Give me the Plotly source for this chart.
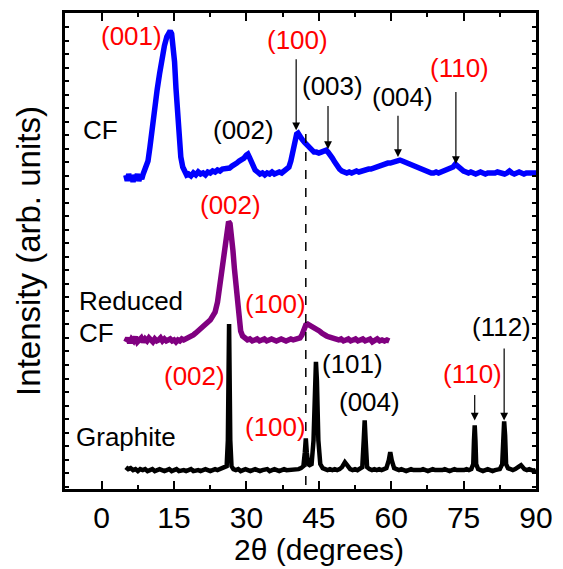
import plotly.graph_objects as go

# ---- XRD patterns (2-theta in degrees, intensity in arbitrary units above each baseline) ----
cf_2theta = [5.0, 5.3, 5.6, 5.9, 6.2, 6.5, 6.8, 7.1, 7.4, 7.7, 8.0, 8.3, 8.6, 8.9, 9.2, 9.6, 10.0, 10.5, 11.0, 11.5,
             12.0, 12.5, 13.0, 13.5, 13.9, 14.2, 14.5, 14.8, 15.1, 15.4, 15.7, 16.0, 16.4, 16.8, 17.2, 17.6, 18.0, 18.5,
             19.0, 19.5, 20.0, 20.5, 21.0, 21.5, 22.0, 22.5, 23.0, 23.5, 24.0, 24.5, 25.0, 25.5, 26.0, 26.5, 27.0, 27.5,
             28.0, 28.5, 29.0, 29.5, 30.0, 30.3, 30.6, 31.0, 31.4, 31.8, 32.3, 32.8, 33.3, 33.8, 34.3, 34.8, 35.3, 35.8,
             36.3, 36.8, 37.3, 37.8, 38.3, 38.8, 39.2, 39.6, 40.0, 40.4, 40.7, 41.0, 41.5, 42.0, 42.5, 43.0, 43.5, 44.0,
             44.5, 45.0, 45.5, 46.0, 46.5, 46.9, 47.3, 47.8, 48.3, 48.8, 49.3, 49.8, 50.3, 50.8, 51.3, 51.8, 52.3, 52.8,
             53.3, 53.8, 54.3, 54.8, 55.3, 55.8, 56.3, 56.8, 57.3, 57.8, 58.3, 58.8, 59.3, 59.8, 60.3, 60.8, 61.3, 61.8,
             62.3, 62.8, 63.3, 63.8, 64.3, 64.8, 65.3, 65.8, 66.3, 66.8, 67.3, 67.8, 68.3, 68.8, 69.3, 69.8, 70.3, 70.8,
             71.3, 71.8, 72.3, 72.8, 73.3, 73.7, 74.1, 74.5, 75.0, 75.5, 76.0, 76.5, 77.0, 77.5, 78.0, 78.5, 79.0, 79.5,
             80.0, 80.5, 81.0, 81.5, 82.0, 82.5, 83.0, 83.5, 84.0, 84.5, 85.0, 85.5, 86.0, 86.5, 87.0, 87.5, 88.0, 88.5,
             89.0, 89.5, 90.0]
cf_intensity = [-2, -8, -1, -7, -3, -9, -2, -6, -1, -8, -3, -6, -1, 2, 5, 12, 26, 48, 66, 84,
                100, 116, 128, 137, 142, 143, 140, 128, 112, 85, 60, 38, 16, 6, 1, -2, -1, -3,
                0, -2, 1, -1, 0, -2, 1, 0, 2, 1, 3, 2, 4, 4, 5, 5, 7, 8,
                10, 12, 13, 15, 18, 19, 16, 11, 7, 3, 1, -1, 0, -2, 0, -1, 1, -1,
                0, 1, 0, 2, 3, 6, 12, 22, 32, 39, 40, 37, 34, 31, 28, 25, 22, 21,
                21, 20, 21, 22, 23, 21, 19, 15, 11, 7, 4, 2, 1, 0, 1, 0, 1, 2,
                1, 2, 3, 3, 4, 4, 5, 6, 6, 7, 8, 9, 10, 10, 11, 12, 12, 13,
                12, 11, 10, 9, 8, 7, 5, 4, 3, 2, 1, 1, 0, 0, 1, 0, 1, 1,
                2, 3, 4, 6, 9, 7, 5, 3, 2, 1, 0, 1, 0, -1, 0, 1, 0, -1,
                0, 0, -1, 0, 1, 0, 0, -1, 0, 2, 0, -1, 0, 1, 0, -1, 0, 0,
                1, 0, 0]

rcf_2theta = [5.0, 5.4, 5.8, 6.2, 6.6, 7.0, 7.4, 7.8, 8.2, 8.6, 9.0, 9.4, 9.8, 10.2, 10.6, 11.0, 11.4, 11.8, 12.2,
              12.6, 13.0, 13.4, 13.8, 14.2, 14.6, 15.0, 15.4, 15.8, 16.2, 16.6, 17.0, 17.5, 18.0, 18.5, 19.0, 19.5,
              20.0, 20.5, 21.0, 21.5, 22.0, 22.5, 23.0, 23.5, 24.0, 24.5, 25.0, 25.5, 25.9, 26.3, 26.6, 26.9, 27.2,
              27.5, 27.8, 28.1, 28.4, 28.8, 29.2, 29.7, 30.2, 30.7, 31.2, 31.7, 32.2, 32.7, 33.2, 33.7, 34.2, 34.7,
              35.2, 35.7, 36.2, 36.7, 37.2, 37.7, 38.2, 38.7, 39.2, 39.7, 40.2, 40.7, 41.1, 41.5, 41.9, 42.3, 42.7,
              43.1, 43.6, 44.1, 44.6, 45.1, 45.6, 46.1, 46.6, 47.1, 47.6, 48.1, 48.6, 49.1, 49.6, 50.1, 50.6, 51.1,
              51.6, 52.1, 52.6, 53.1, 53.6, 54.1, 54.6, 55.1, 55.6, 56.1, 56.6, 57.1, 57.6, 58.1, 58.6, 59.1, 59.6]
rcf_intensity = [-2, 2, -3, 1, -1, 3, -2, 0, 2, -2, 1, -1, 2, 0, -2, 1, -1, 0, 2,
                 -1, 1, -1, 0, 1, -1, 0, -2, 0, -1, 1, 0, 1, 2, 4, 5, 7,
                 9, 11, 13, 15, 17, 20, 24, 28, 38, 56, 78, 100, 113, 119, 117, 106, 90,
                 72, 54, 36, 20, 9, 4, 2, 0, 1, -1, 0, 1, -1, 0, 1, -1, 0,
                 1, 0, -1, 0, 1, 0, -1, 0, 1, 0, 1, 1, 2, 5, 11, 15, 16,
                 15, 13, 12, 11, 9, 7, 5, 4, 3, 2, 1, 1, 0, 1, -1, 0, 1,
                 -1, 0, 1, -1, 0, 1, -1, 0, 1, -2, 0, 1, -1, 0, -1, 0, -1]

gr_2theta = [5.0, 5.5, 6.0, 6.5, 7.0, 7.5, 8.0, 8.5, 9.0, 9.5, 10.0, 10.5, 11.0, 11.5, 12.0, 12.5, 13.0, 13.5, 14.0,
             14.5, 15.0, 15.5, 16.0, 16.5, 17.0, 17.5, 18.0, 18.5, 19.0, 19.5, 20.0, 20.5, 21.0, 21.5, 22.0, 22.5,
             23.0, 23.5, 24.0, 24.5, 25.0, 25.5, 25.9, 26.15, 26.4, 26.65, 26.9, 27.3, 27.8, 28.3, 28.8, 29.3, 29.8,
             30.3, 30.8, 31.3, 31.8, 32.3, 32.8, 33.3, 33.8, 34.3, 34.8, 35.3, 35.8, 36.3, 36.8, 37.3, 37.8, 38.3,
             38.8, 39.3, 39.8, 40.3, 40.8, 41.3, 41.8, 42.1, 42.3, 42.5, 42.8, 43.1, 43.5, 43.9, 44.2, 44.4, 44.6,
             44.9, 45.3, 45.8, 46.3, 46.8, 47.3, 47.8, 48.3, 48.8, 49.3, 49.8, 50.4, 51.0, 51.5, 52.0, 52.5, 53.0,
             53.5, 54.0, 54.3, 54.5, 54.7, 55.0, 55.5, 56.0, 56.5, 57.0, 57.5, 58.0, 58.5, 59.0, 59.5, 59.8, 60.1,
             60.6, 61.1, 61.6, 62.1, 62.6, 63.1, 63.6, 64.1, 64.6, 65.1, 65.6, 66.1, 66.6, 67.1, 67.6, 68.1, 68.6,
             69.1, 69.6, 70.1, 70.6, 71.1, 71.6, 72.1, 72.6, 73.1, 73.6, 74.1, 74.6, 75.1, 75.6, 76.1, 76.6, 77.0,
             77.15, 77.3, 77.45, 77.6, 78.0, 78.5, 79.0, 79.5, 80.0, 80.5, 81.0, 81.5, 82.0, 82.5, 83.0, 83.2, 83.4,
             83.6, 83.8, 84.2, 84.7, 85.2, 85.7, 86.2, 86.6, 86.9, 87.2, 87.6, 88.1, 88.6, 89.1, 89.6, 90.0]
gr_intensity = [3, 1, 2, 0, 1, -1, 1, 0, 1, -1, 0, 1, -1, 0, 1, 0, -1, 0, 1,
                -1, 0, 1, -1, 0, 0, -1, 0, 1, -1, 0, 0, -1, 0, 1, 0, -1,
                0, 1, 0, 1, 1, 2, 4, 30, 147, 30, 4, 1, 0, 1, -1, 0, 1,
                0, -1, 0, 1, 0, -1, 0, 0, 1, -1, 0, 1, 0, -1, 0, 1, 0,
                0, 1, 0, 1, 1, 2, 4, 18, 32, 18, 6, 5, 6, 30, 90, 109, 90,
                30, 6, 2, 1, 0, 1, 0, 1, 0, 1, 3, 8, 3, 1, 0, 1, 0,
                1, 3, 30, 50, 30, 3, 1, 0, 1, 0, 1, 0, 1, 2, 10, 18, 10,
                2, 1, 0, 1, 0, -1, 0, 1, 0, 0, -1, 0, 1, 0, -1, 0, 1,
                0, 0, -1, 0, 1, 0, -1, 0, 1, 0, 0, -1, 0, 1, 0, 1, 6,
                30, 45, 30, 6, 1, 0, -1, 0, 1, 0, -1, 0, 1, 1, 6, 35, 49,
                35, 6, 2, 1, 0, 1, 2, 4, 5, 3, 1, 0, 1, 0, -1, 0]

# vertical offsets that stack the three patterns
CF_OFFSET = 318
RCF_OFFSET = 150
GR_OFFSET = 19

x_ticks = [0, 15, 30, 45, 60, 75, 90]
x_tick_labels = ["0", "15", "30", "45", "60", "75", "90"]

FONT = "Liberation Sans, Arial, sans-serif"
RED = "#FF0000"
BLACK = "#000000"

fig = go.Figure()

fig.add_trace(go.Scatter(x=gr_2theta, y=[GR_OFFSET + v for v in gr_intensity], mode="lines",
                         line=dict(color="#000000", width=4.5), name="Graphite", showlegend=False))
fig.add_trace(go.Scatter(x=rcf_2theta, y=[RCF_OFFSET + v for v in rcf_intensity], mode="lines",
                         line=dict(color="#800080", width=5.5), name="Reduced CF", showlegend=False))
fig.add_trace(go.Scatter(x=cf_2theta, y=[CF_OFFSET + v for v in cf_intensity], mode="lines",
                         line=dict(color="#0000FF", width=5.5), name="CF", showlegend=False))

# dashed guide through the (100) reflections
fig.add_shape(type="line", xref="x", yref="y", x0=42.3, x1=42.3, y0=4, y1=364,
              line=dict(color="black", width=1.5, dash="dash"))

annotations = []


def label(x, y, text, color, anchor="center", size=26):
    annotations.append(dict(x=x, y=y, xref="x", yref="y", text=text, showarrow=False,
                            xanchor=anchor, yanchor="middle",
                            font=dict(family=FONT, size=size, color=color)))


def arrow(x, y_tail, y_head):
    annotations.append(dict(x=x, y=y_head, ax=x, ay=y_tail, xref="x", yref="y", axref="x", ayref="y",
                            text="", showarrow=True, arrowhead=2, arrowsize=1.3, arrowwidth=1.2,
                            arrowcolor="black", standoff=0))


# CF
label(6.2, 456, "(001)", RED)
label(40.5, 452, "(100)", RED)
label(47.9, 406, "(003)", BLACK)
label(62.3, 394, "(004)", BLACK)
label(74.2, 424, "(110)", RED)
label(29.4, 361, "(002)", BLACK)
label(-4.2, 361, "CF", BLACK, anchor="left")
arrow(40.3, 434, 361)
arrow(46.9, 387, 342)
arrow(61.4, 377, 334)
arrow(73.4, 401, 327)

# Reduced CF
label(26.7, 286, "(002)", RED)
label(36.0, 186, "(100)", RED)
label(-5.1, 189, "Reduced", BLACK, anchor="left")
label(-5.1, 157, "CF", BLACK, anchor="left")

# Graphite
label(19.3, 114, "(002)", RED)
label(36.0, 62, "(100)", RED)
label(52.0, 126, "(101)", BLACK)
label(55.5, 88, "(004)", BLACK)
label(76.9, 116, "(110)", RED)
label(82.8, 163, "(112)", BLACK)
label(-5.7, 52, "Graphite", BLACK, anchor="left")
arrow(77.3, 96, 69)
arrow(83.4, 143, 69)

# x-axis title, set slightly right of the plot centre
annotations.append(dict(x=0.54, y=-0.127, xref="paper", yref="paper", text="2θ (degrees)",
                        showarrow=False, xanchor="center", yanchor="middle",
                        font=dict(family=FONT, size=30, color="black")))

fig.update_layout(
    width=563, height=569,
    margin=dict(l=65, r=24, t=10, b=80),
    paper_bgcolor="white", plot_bgcolor="white",
    annotations=annotations,
    font=dict(family=FONT, color="black"),
)

fig.update_xaxes(
    range=[-7.6, 90], tickvals=x_ticks, ticktext=x_tick_labels,
    ticks="inside", ticklen=8, tickwidth=2, tickcolor="black",
    minor=dict(ticks="inside", ticklen=4, tickwidth=2, dtick=7.5, tick0=0, tickcolor="black"),
    showline=True, linewidth=3, linecolor="black", mirror="allticks",
    showgrid=False, zeroline=False,
    tickfont=dict(family=FONT, size=30, color="black"),
)
fig.update_yaxes(
    range=[0, 479], showticklabels=False,
    ticks="inside", ticklen=4, tickwidth=2, tickcolor="black", tick0=16, dtick=13.6,
    showline=True, linewidth=3, linecolor="black", mirror="allticks",
    showgrid=False, zeroline=False,
    title=dict(text="Intensity (arb. units)", font=dict(family=FONT, size=33, color="black"), standoff=12),
)

fig.write_html("out.html")
